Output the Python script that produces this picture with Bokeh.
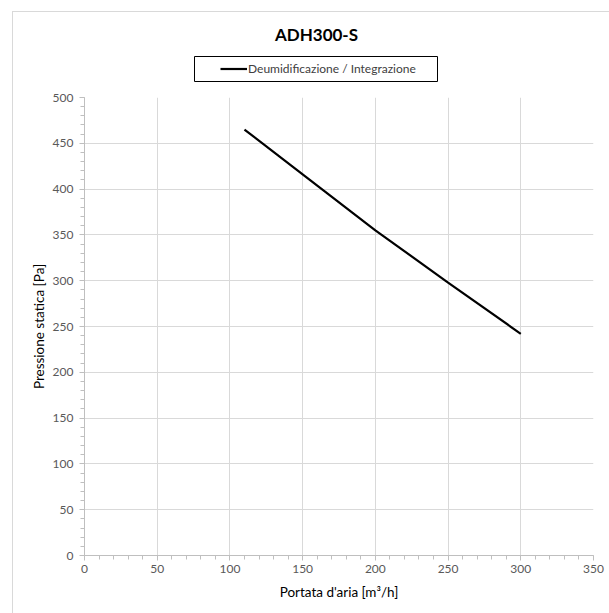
from bokeh.plotting import figure
from bokeh.models import (Range1d, SingleIntervalTicker, Legend, LegendItem, Label,
                          BoxAnnotation)
from bokeh.layouts import column
from bokeh.embed import file_html
from bokeh.resources import INLINE

title_text = "ADH300-S"
series_name = "Deumidificazione / Integrazione"
x_label = "Portata d'aria [m³/h]"
y_label = "Pressione statica [Pa]"

airflow = [110, 150, 200, 250, 300]
pressure = [465, 416, 355, 298, 242]

FONT = "Lato"
GRID = "#d9d9d9"
TICK_TXT = "#595959"
LINE_W = 2.2

# ---- header (title + legend); its frame is aligned with the chart frame ----
FRAME_W, HEAD_H = 509, 75
head = figure(width=596, height=HEAD_H, output_backend="svg", toolbar_location=None,
              x_range=Range1d(0, FRAME_W), y_range=Range1d(0, HEAD_H),
              x_axis_type=None, y_axis_type=None, min_border=0)
head.outline_line_color = None
head.grid.visible = False

head.add_layout(Label(x=232, y=53, text=title_text, text_font=FONT, text_font_size="17px",
                      text_font_style="bold", text_align="center", text_baseline="middle",
                      text_color="black"))

head.add_layout(BoxAnnotation(left=110, right=353, bottom=6, top=31,
                              fill_color="white", fill_alpha=1,
                              line_color="black", line_width=1, line_alpha=1))

# legend key: same series, lies outside this header's ranges so only the key shows
key = head.line(airflow, pressure, line_color="black", line_width=LINE_W)
legend = Legend(items=[LegendItem(label=series_name, renderers=[key])],
                location=(136, 11), margin=0, padding=0,
                glyph_width=27, glyph_height=15, label_height=15, label_standoff=1,
                border_line_alpha=0, background_fill_alpha=0,
                label_text_font=FONT, label_text_font_size="12px",
                label_text_color="#404040")
head.add_layout(legend)

# ---- main chart ----
p = figure(width=596, height=526, output_backend="svg", toolbar_location=None,
           x_range=Range1d(0, 350), y_range=Range1d(0, 500),
           min_border_left=71, min_border_right=16, min_border_top=10, min_border_bottom=58)
p.outline_line_color = None

for ax, lab in ((p.xaxis[0], x_label), (p.yaxis[0], y_label)):
    ax.ticker = SingleIntervalTicker(interval=50, num_minor_ticks=5)
    ax.axis_line_color = "#bfbfbf"
    ax.major_tick_line_color = "#bfbfbf"
    ax.minor_tick_line_color = "#bfbfbf"
    ax.major_tick_out = 5
    ax.major_tick_in = 0
    ax.minor_tick_out = 4
    ax.minor_tick_in = 0
    ax.major_label_text_font = FONT
    ax.major_label_text_font_size = "12px"
    ax.major_label_text_color = TICK_TXT
    ax.axis_label = lab
    ax.axis_label_text_font = FONT
    ax.axis_label_text_font_size = "13.5px"
    ax.axis_label_text_font_style = "normal"
    ax.axis_label_text_color = "black"

p.xaxis.major_label_standoff = 4
p.xaxis.axis_label_standoff = 8
p.yaxis.major_label_standoff = 6
p.yaxis.axis_label_standoff = 3

p.xgrid.ticker = SingleIntervalTicker(interval=50)
p.ygrid.ticker = SingleIntervalTicker(interval=50)
p.grid.grid_line_color = GRID
p.grid.grid_line_width = 1

p.line(airflow, pressure, line_color="black", line_width=LINE_W)

layout = column(head, p, spacing=0, margin=(11, 0, 0, 12),
                styles={"border-left": "1px solid #d9d9d9", "border-top": "1px solid #d9d9d9"})

open("out.html", "w").write(file_html(layout, INLINE))
